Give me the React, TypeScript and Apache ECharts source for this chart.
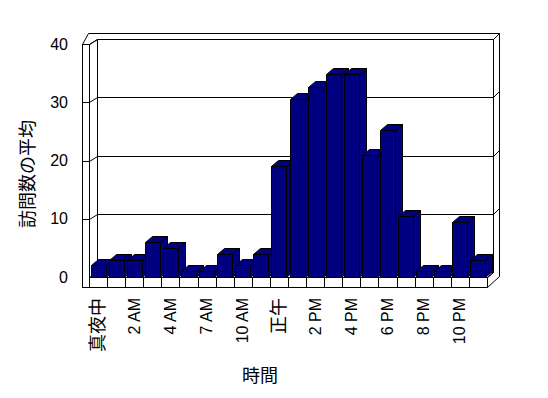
import React, { useEffect, useRef } from "react";
import * as echarts from "echarts";

const categories = [
  "真夜中", "1 AM", "2 AM", "3 AM", "4 AM", "5 AM", "7 AM", "8 AM", "10 AM", "11 AM", "正午",
  "1 PM", "2 PM", "3 PM", "4 PM", "5 PM", "6 PM", "7 PM", "8 PM", "9 PM", "10 PM", "11 PM",
];
const visits = [2, 3, 3, 6, 5, 1, 1, 4, 2, 4, 19, 30.5, 32.7, 34.8, 34.8, 21, 25.2, 10.4, 1, 1, 9.4, 3];
const yTicks = [0, 10, 20, 30, 40];
const yTitle = "訪問数の平均";
const xTitle = "時間";

const FONT = "'Liberation Sans', 'Noto Sans CJK JP', sans-serif";
const BAR = "#000080";

const px = (v: number) => Math.round(v) + 0.5;

export default function App() {
  const ref = useRef<HTMLDivElement>(null);
  useEffect(() => {
    if (!ref.current) return;
    const chart = echarts.init(ref.current, undefined, { renderer: "svg" });
    const line = (pts: number[][]) => ({
      type: "polyline",
      shape: { points: pts.map((p) => [px(p[0]), px(p[1])]) },
      style: { stroke: "#000", lineWidth: 1, fill: null },
    });
    const poly = (pts: number[][], fill: string) => ({
      type: "polygon",
      shape: { points: pts.map((p) => [px(p[0]), px(p[1])]) },
      style: { stroke: "#000", lineWidth: 1, fill },
    });
    chart.setOption({
      animation: false,
      backgroundColor: "#fff",
      grid: { left: 89, top: 44, width: 398, height: 233 },
      xAxis: {
        type: "category",
        data: categories,
        axisLine: { show: false },
        axisTick: { show: false },
        splitLine: { show: false },
        axisLabel: {
          interval: 1,
          rotate: 90,
          margin: 21,
          color: "#000",
          fontSize: 16,
          fontFamily: FONT,
          formatter: (v: string) => (/[A-Za-z0-9]/.test(v) ? v : `{cjk|${v}}`),
          rich: { cjk: { fontSize: 18, fontFamily: FONT, color: "#000" } },
        },
      },
      yAxis: {
        type: "value",
        min: 0,
        max: 40,
        interval: 10,
        axisLine: { show: false },
        axisTick: { show: false },
        splitLine: { show: false },
        axisLabel: { margin: 21, color: "#000", fontSize: 16, fontFamily: FONT },
      },
      series: [
        {
          type: "custom",
          clip: false,
          z: 1,
          silent: true,
          data: yTicks.map((t) => [0, t]),
          renderItem: (params: any, api: any) => {
            const cs = params.coordSys;
            const L = cs.x, R = cs.x + cs.width, T = cs.y, B = cs.y + cs.height;
            const y = api.coord([0, api.value(1)])[1];
            const children: any[] = [];
            if (params.dataIndex === 0) {
              const cw = api.size([1, 0])[0];
              children.push(
                poly([[L - 7, T], [L - 1, T - 11], [R + 12, T - 11], [R + 12, B - 1], [R, B + 10], [L - 7, B + 10]], "#fff"),
                poly([[L + 8, T - 5], [R + 6, T - 5], [R + 6, B - 5], [L + 8, B - 5]], "#fff"),
                line([[L, T], [L + 8, T - 5]]),
                line([[R + 6, T - 5], [R + 12, T - 11]]),
                poly([[L, B], [R, B], [R + 6, B - 5], [L + 8, B - 5]], "#fff"),
                line([[R, B], [R + 6, B - 5]]),
                poly([[L - 7, B], [R, B], [R, B + 10], [L - 7, B + 10]], "#fff"),
                poly([[L - 7, T], [L, T], [L, B + 10], [L - 7, B + 10]], "#fff")
              );
              for (let i = 1; i < categories.length; i++) {
                const x = L + cw * i;
                children.push(line([[x, B], [x, B + 10]]));
              }
            } else {
              children.push(
                line([[L + 8, y - 5], [R + 6, y - 5]]),
                line([[L - 7, y], [L, y], [L + 8, y - 5]]),
                line([[R + 6, y - 5], [R + 12, y - 11]])
              );
            }
            return { type: "group", children };
          },
        },
        {
          type: "custom",
          clip: false,
          z: 2,
          data: visits.map((v, i) => [i, v]),
          renderItem: (params: any, api: any) => {
            const [cx, y] = api.coord([api.value(0), api.value(1)]);
            const y0 = api.coord([api.value(0), 0])[1];
            const w = api.size([1, 0])[0] * 0.83;
            const xl = cx - w / 2, xr = cx + w / 2;
            const dx = 7, dy = -6;
            return {
              type: "group",
              children: [
                poly([[xr, y], [xr + dx, y + dy], [xr + dx, y0 + dy], [xr, y0]], BAR),
                poly([[xl, y], [xr, y], [xr + dx, y + dy], [xl + dx, y + dy]], BAR),
                poly([[xl, y], [xr, y], [xr, y0], [xl, y0]], BAR),
              ],
            };
          },
        },
      ],
      graphic: [
        {
          type: "text",
          x: 28,
          y: 174,
          rotation: Math.PI / 2,
          style: {
            text: yTitle,
            fontSize: 18,
            fontFamily: FONT,
            fill: "#000",
            textAlign: "center",
            textVerticalAlign: "middle",
          },
        },
        {
          type: "text",
          x: 260,
          y: 376,
          style: {
            text: xTitle,
            fontSize: 18,
            fontFamily: FONT,
            fill: "#000",
            textAlign: "center",
            textVerticalAlign: "middle",
          },
        },
      ],
    });
    return () => chart.dispose();
  }, []);
  return (
    <div
      ref={ref}
      style={{ position: "absolute", left: 0, top: 0, width: 548, height: 398, background: "#fff" }}
    />
  );
}
